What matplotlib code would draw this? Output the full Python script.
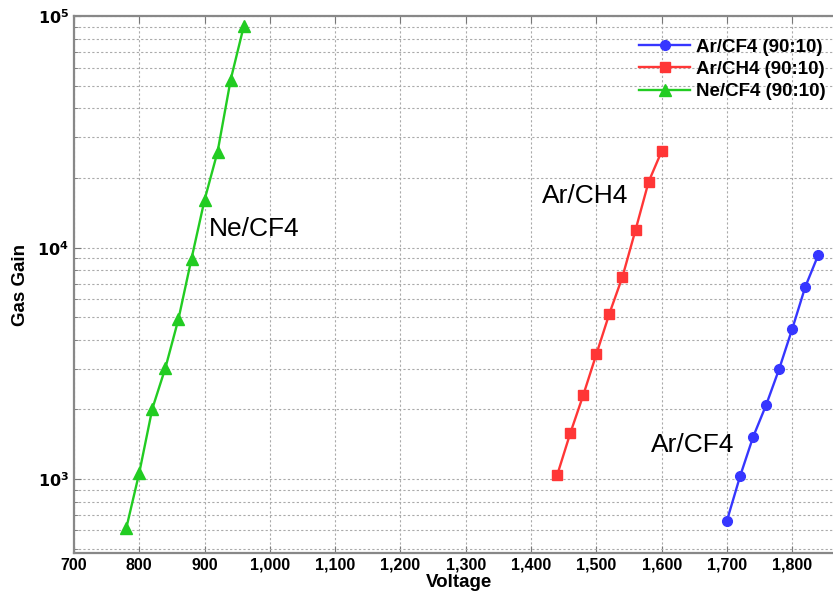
import numpy as np
import matplotlib
matplotlib.use("Agg")
import matplotlib.pyplot as plt
from matplotlib.ticker import FuncFormatter, LogLocator, MultipleLocator

plt.rcParams['font.family'] = ['Liberation Sans', 'DejaVu Sans']

# Ar/CF4 (90:10)
ar_cf4_v = [1700, 1720, 1740, 1760, 1780, 1800, 1820, 1840]
ar_cf4_gain = [662, 1027, 1520, 2091, 2994, 4460, 6780, 9330]

# Ar/CH4 (90:10)
ar_ch4_v = [1440, 1460, 1480, 1500, 1520, 1540, 1560, 1580, 1600]
ar_ch4_gain = [1041, 1577, 2310, 3465, 5194, 7490, 11930, 19250, 26110]

# Ne/CF4 (90:10)
ne_cf4_v = [780, 800, 820, 840, 860, 880, 900, 920, 940, 960]
ne_cf4_gain = [612, 1065, 2015, 3023, 4913, 8963, 16090, 26030, 53210, 90500]

series = [
    ("Ar/CF4 (90:10)", ar_cf4_v, ar_cf4_gain, '#3636ff', 'o', 7),
    ("Ar/CH4 (90:10)", ar_ch4_v, ar_ch4_gain, '#ff3636', 's', 6.5),
    ("Ne/CF4 (90:10)", ne_cf4_v, ne_cf4_gain, '#22cc22', '^', 9),
]

fig = plt.figure(figsize=(8.33, 5.91), dpi=100)
ax = fig.add_axes([0.0888, 0.0645, 0.925, 0.908])

for label, xs, ys, color, marker, ms in series:
    ax.plot(xs, ys, color=color, marker=marker, markersize=ms, linewidth=1.7, label=label)

ax.set_yscale('log')
ax.set_xlim(700, 1880)
ax.set_ylim(480, 1e5)

ax.xaxis.set_major_locator(MultipleLocator(100))
ax.xaxis.set_major_formatter(FuncFormatter(lambda v, p: f"{int(v):,}"))
ax.yaxis.set_major_locator(LogLocator(base=10))
ax.yaxis.set_minor_locator(LogLocator(base=10, subs=np.arange(2, 10)))
ax.yaxis.set_major_formatter(FuncFormatter(lambda v, p: r"$\mathbf{10^{%d}}$" % round(np.log10(v))))
ax.yaxis.set_minor_formatter(FuncFormatter(lambda v, p: ""))

ax.grid(True, which='major', linestyle=(0, (2, 2)), color='#aaaaaa', linewidth=0.8)
ax.grid(True, which='minor', axis='y', linestyle=(0, (2, 2)), color='#aaaaaa', linewidth=0.8)

ax.tick_params(axis='both', which='both', direction='in', top=True, right=True, color='#777777')
ax.tick_params(axis='both', which='major', length=5, labelsize=11.5)
ax.tick_params(axis='y', which='minor', length=3)
for lbl in ax.get_xticklabels():
    lbl.set_fontweight('bold')
for sp in ax.spines.values():
    sp.set_color('#888888')
    sp.set_linewidth(1.6)

ax.set_xlabel("Voltage", fontsize=13.5, fontweight='bold', labelpad=1)
ax.set_ylabel("Gas Gain", fontsize=13.5, fontweight='bold', labelpad=6)

ax.text(906, 12080, "Ne/CF4", fontsize=19, va='center', ha='left')
ax.text(1416, 16790, "Ar/CH4", fontsize=19, va='center', ha='left')
ax.text(1583, 1403, "Ar/CF4", fontsize=19, va='center', ha='left')

leg = ax.legend(loc='upper right', bbox_to_anchor=(0.997, 0.99), frameon=False,
                prop={'weight': 'bold', 'size': 13.5}, handlelength=2.7,
                handletextpad=0.3, labelspacing=0.28)

fig.savefig("out.png", dpi=100)
